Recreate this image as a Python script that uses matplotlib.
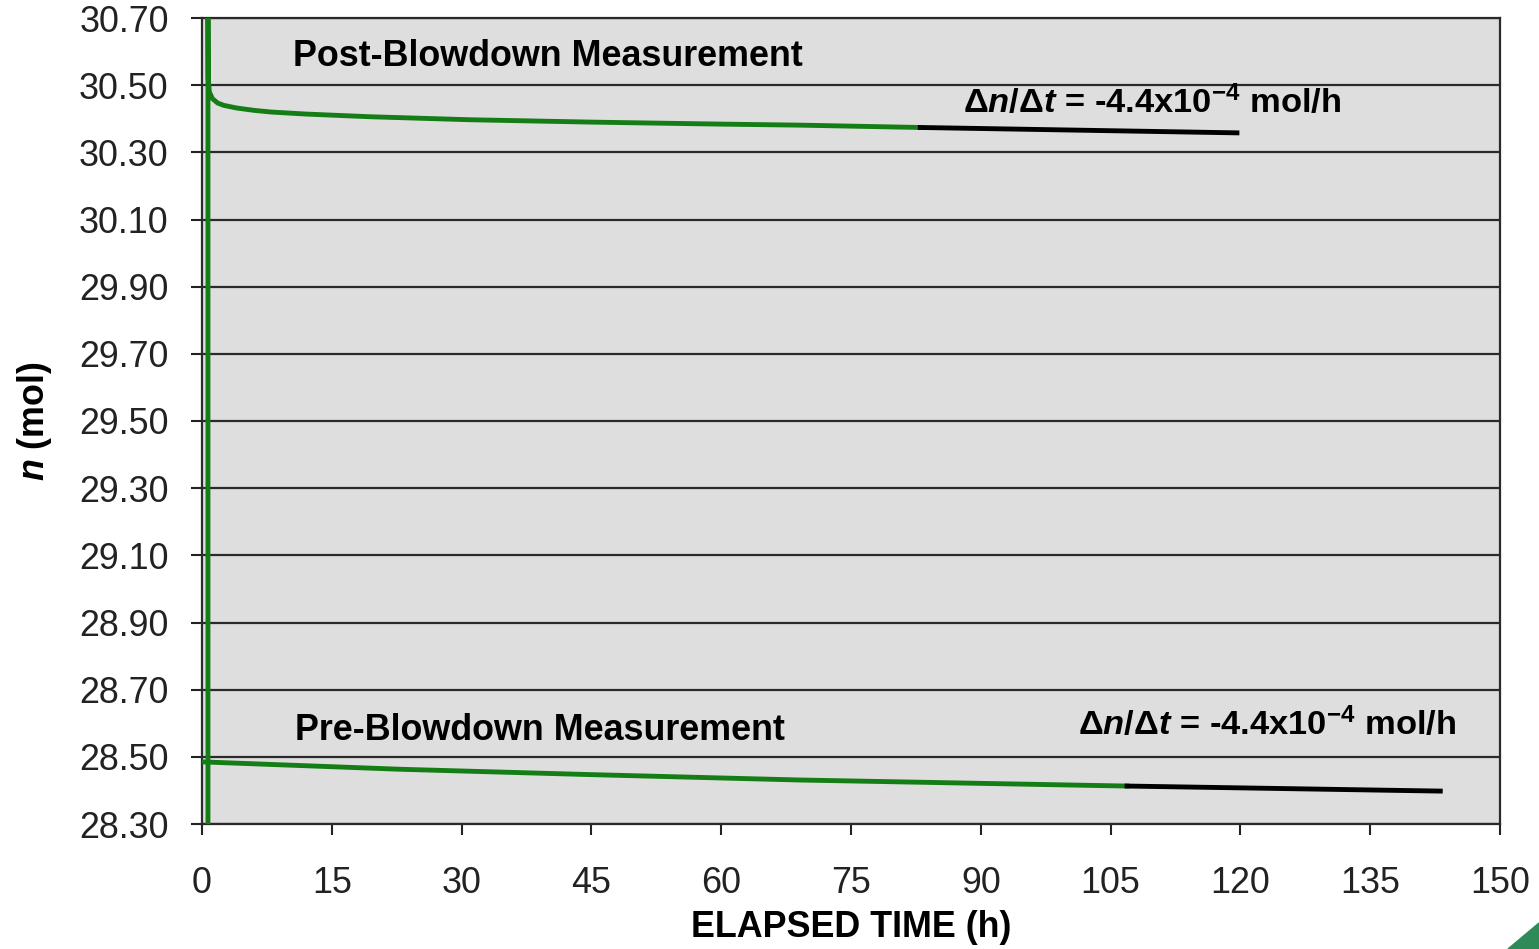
import matplotlib.pyplot as plt
from matplotlib.patches import Polygon

plt.rcParams['font.family'] = ['Liberation Sans', 'DejaVu Sans']
plt.rcParams['mathtext.fontset'] = 'custom'
plt.rcParams['mathtext.rm'] = 'Liberation Sans:bold'
plt.rcParams['mathtext.bf'] = 'Liberation Sans:bold'
plt.rcParams['mathtext.it'] = 'Liberation Sans:bold:italic'
plt.rcParams['mathtext.bfit'] = 'Liberation Sans:bold:italic'

# Post-blowdown measurement (starts with the blowdown jump)
post_t = [0.69, 0.69, 0.72, 0.85, 1.2, 1.8, 2.5, 4.0, 6.0, 8.0, 12.0, 19.4, 31.0, 45.0, 60.0, 69.0, 83.0]
post_n = [28.20, 30.75, 30.52, 30.48, 30.46, 30.447, 30.440, 30.432, 30.425, 30.420,
          30.414, 30.406, 30.397, 30.390, 30.384, 30.381, 30.374]
post_fit_t = [83.0, 119.6]
post_fit_n = [30.374, 30.358]

# Pre-blowdown measurement
pre_t = [0.0, 22.9, 45.0, 69.1, 90.0, 106.9]
pre_n = [28.485, 28.463, 28.447, 28.431, 28.421, 28.413]
pre_fit_t = [106.9, 143.1]
pre_fit_n = [28.413, 28.398]

x_ticks = list(range(0, 151, 15))
y_ticks = [28.30, 28.50, 28.70, 28.90, 29.10, 29.30, 29.50, 29.70, 29.90, 30.10, 30.30, 30.50, 30.70]

rate_label = r'Δ$\mathbfit{n}$/Δ$\mathbfit{t}$ = -4.4x10$^{\mathbf{-4}}$ mol/h'

green = '#157d15'
fs = 25.8

fig = plt.figure(figsize=(15.39, 9.49), dpi=100)
ax = fig.add_axes([202 / 1539, 1 - 824 / 949, 1298 / 1539, 806 / 949])
ax.set_facecolor('#dedede')

ax.plot(post_t, post_n, color=green, lw=3.5, zorder=3)
ax.plot(post_fit_t, post_fit_n, color='black', lw=3.5, zorder=3)
ax.plot(pre_t, pre_n, color=green, lw=3.5, zorder=3)
ax.plot(pre_fit_t, pre_fit_n, color='black', lw=3.5, zorder=3)

ax.set_xlim(0, 150)
ax.set_ylim(28.30, 30.70)
ax.set_xticks(x_ticks)
ax.set_yticks(y_ticks)
ax.set_yticklabels([f'{v:.2f}' for v in y_ticks])
ax.grid(axis='y', color='#2a2a2a', lw=1.6)
ax.set_axisbelow(True)

ax.tick_params(axis='both', labelsize=fs, length=8, width=1.5, direction='out', colors='#222222')
ax.tick_params(axis='y', pad=16)
ax.tick_params(axis='x', pad=22)
for side in ['left', 'bottom', 'top', 'right']:
    ax.spines[side].set_color('#2a2a2a')
    ax.spines[side].set_linewidth(1.6)

ax.set_xlabel('ELAPSED TIME (h)', fontsize=fs, fontweight='bold', labelpad=7)
ax.set_ylabel(r'$\mathbfit{n}$ (mol)', fontsize=fs, fontweight='bold', labelpad=18)

ax.text(10.5, 30.584, 'Post-Blowdown Measurement', fontsize=fs, fontweight='bold', va='center', ha='left')
ax.text(10.8, 28.577, 'Pre-Blowdown Measurement', fontsize=fs, fontweight='bold', va='center', ha='left')
ax.text(88.0, 30.45, rate_label, fontsize=24.8, fontweight='bold', va='center', ha='left')
ax.text(101.2, 28.598, rate_label, fontsize=24.8, fontweight='bold', va='center', ha='left')

# corner decoration of the slide
fig.add_artist(Polygon([[1508 / 1539, 0], [1, 26 / 949], [1, 0]], closed=True,
                       transform=fig.transFigure, color='#2e8a57'))

fig.savefig('out.png', dpi=100)
